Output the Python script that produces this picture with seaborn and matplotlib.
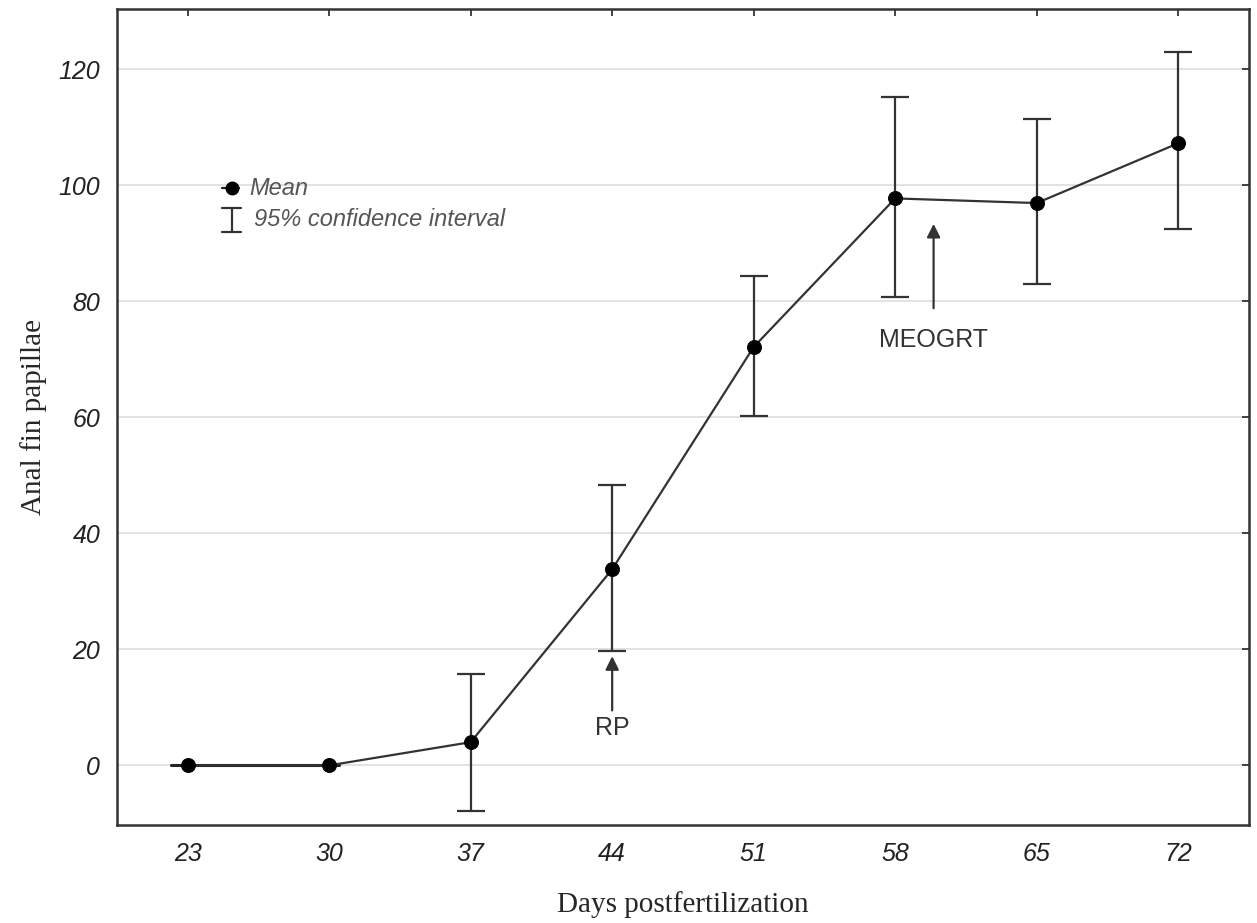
import numpy as np
import pandas as pd
import seaborn as sns
import matplotlib.pyplot as plt

days = [23, 30, 37, 44, 51, 58, 65, 72]
mean_papillae = [0.0, 0.0, 4.0, 33.8, 72.1, 97.7, 96.9, 107.2]
ci_low = [0.0, 0.0, -7.8, 19.7, 60.2, 80.7, 82.9, 92.4]
ci_high = [0.0, 0.0, 15.8, 48.4, 84.3, 115.2, 111.3, 123.0]

df = pd.DataFrame({'day': days, 'mean': mean_papillae, 'low': ci_low, 'high': ci_high})

sns.set_style('white')
plt.rcParams['font.family'] = ['Liberation Sans', 'DejaVu Sans']

fig, ax = plt.subplots(figsize=(12.57, 9.23), dpi=100)
fig.subplots_adjust(left=0.093, right=0.9936, bottom=0.106, top=0.990)

ax.yaxis.grid(True, color='#dddddd', linewidth=1.2)
ax.set_axisbelow(True)

# confidence intervals (skip the days with no spread)
has_ci = df['high'] > df['low']
sub = df[has_ci]
ax.errorbar(sub['day'], sub['mean'],
            yerr=[sub['mean'] - sub['low'], sub['high'] - sub['mean']],
            fmt='none', ecolor='#333333', elinewidth=1.6, capsize=10, capthick=1.6, zorder=2)

sns.lineplot(data=df, x='day', y='mean', ax=ax, color='#333333', linewidth=1.6,
             marker='o', markersize=10, markerfacecolor='black', markeredgecolor='black',
             zorder=3)
# little flat dash at day 23 as in the original
ax.plot([22.2, 30.5], [0, 0], color='#222222', linewidth=2.2, zorder=2)

ax.set_xlim(19.5, 75.5)
ax.set_ylim(-10.3, 130.3)
ax.set_xticks(days)
ax.set_yticks(range(0, 121, 20))
ax.tick_params(direction='in', length=5, width=1.3, color='#333333',
               top=True, right=True, labeltop=False, labelright=False,
               labelsize=18, labelcolor='#222222', pad=12)
for lab in ax.get_xticklabels() + ax.get_yticklabels():
    lab.set_fontstyle('italic')

for sp in ax.spines.values():
    sp.set_color('#333333')
    sp.set_linewidth(1.8)

ax.set_xlabel('Days postfertilization', family='Liberation Serif', fontsize=21, labelpad=18)
ax.set_ylabel('Anal fin papillae', family='Liberation Serif', fontsize=21, labelpad=8)

# annotations
ax.annotate('', xy=(44, 19.3), xytext=(44, 9.0),
            arrowprops=dict(arrowstyle='-|>', color='#333333', lw=1.6, mutation_scale=20))
ax.text(44, 6.5, 'RP', ha='center', va='center', fontsize=18, color='#333333')
ax.annotate('', xy=(59.9, 93.8), xytext=(59.9, 78.3),
            arrowprops=dict(arrowstyle='-|>', color='#333333', lw=1.6, mutation_scale=20))
ax.text(59.9, 73.3, 'MEOGRT', ha='center', va='center', fontsize=18, color='#333333')

# hand-drawn legend
tr = ax.transAxes
ax.plot([0.093, 0.108], [0.7806, 0.7806], transform=tr, color='#222222', linewidth=1.6)
ax.plot([0.1016], [0.7806], transform=tr, marker='o', markersize=9, color='black')
ax.plot([0.1016, 0.1016], [0.727, 0.757], transform=tr, color='#333333', linewidth=1.6)
ax.plot([0.093, 0.110], [0.757, 0.757], transform=tr, color='#333333', linewidth=1.6)
ax.plot([0.093, 0.110], [0.727, 0.727], transform=tr, color='#333333', linewidth=1.6)
ax.text(0.117, 0.7806, 'Mean', transform=tr, fontsize=17, style='italic',
        color='#555555', va='center')
ax.text(0.121, 0.742, '95% confidence interval', transform=tr, fontsize=17,
        style='italic', color='#555555', va='center')

fig.savefig('out.png', dpi=100)
